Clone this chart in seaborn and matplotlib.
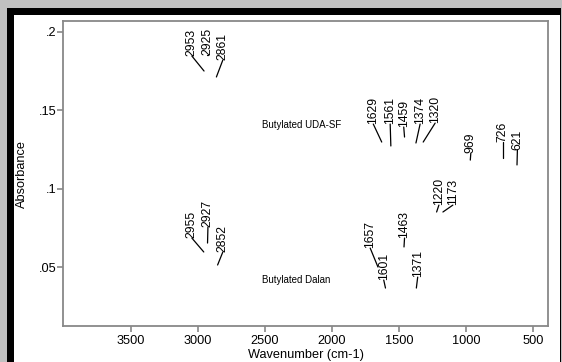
import pandas as pd
import matplotlib
matplotlib.use('Agg')
import matplotlib.pyplot as plt
from matplotlib.patches import Rectangle
from matplotlib.ticker import FuncFormatter
import seaborn as sns

# Peak annotations (wavenumber cm-1, absorbance)
uda_peaks = [2953, 2925, 2861, 1629, 1561, 1459, 1374, 1320, 969, 726, 621]
uda_tip = [0.175, 0.185, 0.1712, 0.1297, 0.1272, 0.1329, 0.1291, 0.1297, 0.1182, 0.1195, 0.1151]
uda_label_x = [3044, 2928, 2813, 1692, 1566, 1465, 1343, 1231, 965, 726, 618]
uda_label_y = [0.1846, 0.185, 0.182, 0.1412, 0.1412, 0.1393, 0.1412, 0.1418, 0.1227, 0.1297, 0.1246]

dalan_peaks = [2955, 2927, 2852, 1657, 1601, 1463, 1371, 1220, 1173]
dalan_tip = [0.0596, 0.0653, 0.0513, 0.0500, 0.0366, 0.0628, 0.0366, 0.0851, 0.0851]
dalan_label_x = [3044, 2924, 2813, 1715, 1614, 1459, 1361, 1203, 1099]
dalan_label_y = [0.0685, 0.0755, 0.0596, 0.0621, 0.0417, 0.0685, 0.0436, 0.0895, 0.0895]

series_names = ['Butylated UDA-SF', 'Butylated Dalan']
series_name_x = [2518, 2518]
series_name_y = [0.1406, 0.0417]

x_ticks = [3500, 3000, 2500, 2000, 1500, 1000, 500]
y_ticks = [0.05, 0.1, 0.15, 0.2]

sns.set_theme(style='ticks')
plt.rcParams['font.family'] = ['Liberation Sans', 'DejaVu Sans']

fig = plt.figure(figsize=(5.62, 3.62), dpi=100, facecolor='#c0c0c0')
W, H = 562, 362
# beveled frame behind the plot
fig.add_artist(Rectangle((7 / W, 0), 554 / W, (H - 8) / H, transform=fig.transFigure,
                         facecolor='black', edgecolor='none', zorder=-2))
fig.add_artist(Rectangle((14 / W, 0), 546 / W, (H - 15) / H, transform=fig.transFigure,
                         facecolor='white', edgecolor='none', zorder=-1))

ax = fig.add_axes([63 / W, (H - 326) / H, 485 / W, 305 / H])
ax.set_facecolor('white')

# leader segments: one short line per peak label
rows = []
for peaks, tips, lx, ly in [(uda_peaks, uda_tip, uda_label_x, uda_label_y),
                            (dalan_peaks, dalan_tip, dalan_label_x, dalan_label_y)]:
    for p, t, x, y in zip(peaks, tips, lx, ly):
        rows.append({'peak': p, 'wn': p, 'abs': t})
        rows.append({'peak': p, 'wn': x, 'abs': y})
seg = pd.DataFrame(rows)
seg['unit'] = seg.index // 2
sns.lineplot(data=seg, x='wn', y='abs', units='unit', estimator=None, sort=False,
             color='black', lw=0.9, ax=ax, legend=False)

for peaks, lx, ly in [(uda_peaks, uda_label_x, uda_label_y),
                      (dalan_peaks, dalan_label_x, dalan_label_y)]:
    for p, x, y in zip(peaks, lx, ly):
        ax.text(x, y, str(p), rotation=90, ha='center', va='bottom', fontsize=8.8, color='black')

for name, x, y in zip(series_names, series_name_x, series_name_y):
    ax.text(x, y, name, ha='left', va='center', fontsize=7, color='black')

ax.set_xlim(4004, 390)
ax.set_ylim(0.0124, 0.2069)
ax.set_xticks(x_ticks)
ax.set_yticks(y_ticks)
ax.yaxis.set_major_formatter(FuncFormatter(lambda v, pos: f'{v:g}'.lstrip('0')))

for s in ax.spines.values():
    s.set_color('#888888')
    s.set_linewidth(1.3)
ax.tick_params(axis='both', colors='#888888', labelcolor='black', length=4.2, width=1.2,
               labelsize=9.2, direction='out')
ax.tick_params(axis='y', pad=0.5)
ax.tick_params(axis='x', pad=2.5)

ax.set_xlabel('Wavenumber (cm-1)', fontsize=9.2, color='black')
ax.set_ylabel('Absorbance', fontsize=9.2, color='black')
ax.xaxis.set_label_coords(0.5, -0.074)
ax.yaxis.set_label_coords(-0.073, 0.5)

plt.savefig('out.png', dpi=100, facecolor=fig.get_facecolor())
